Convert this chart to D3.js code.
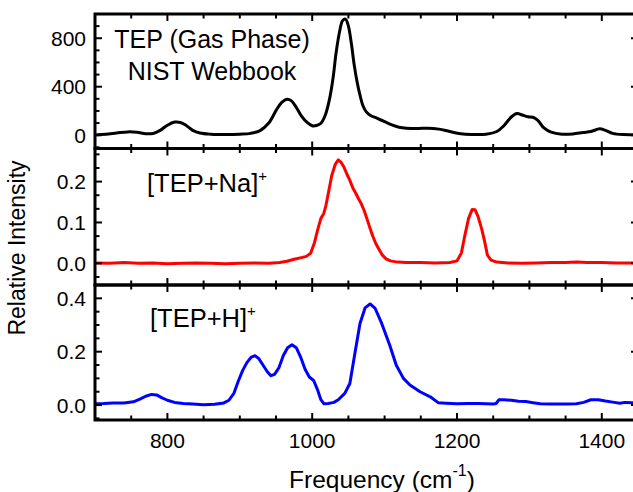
<!DOCTYPE html>
<html>
<head>
<meta charset="utf-8">
<script src="https://cdn.jsdelivr.net/npm/d3@7"></script>
<style>
  html, body { margin: 0; padding: 0; background: #fff; }
  svg { display: block; font-family: "Liberation Sans", Arial, sans-serif; }
</style>
</head>
<body>
<svg id="chart" width="633" height="492"></svg>
<script>
// --- data (frequency in cm-1, intensity) ---
const gasFreq = [700, 715, 730, 745, 758, 770, 780, 790, 800, 810, 818, 826, 835, 845, 860, 880, 900, 915, 928, 940,
  951, 958, 965, 971, 978, 985, 993, 1000, 1006, 1012, 1018, 1024, 1029, 1033, 1038, 1042, 1046, 1050, 1054, 1058,
  1062, 1066, 1070, 1075, 1080, 1090, 1100, 1110, 1120, 1130, 1145, 1160, 1175, 1190, 1205, 1220, 1240, 1255, 1265,
  1275, 1283, 1290, 1298, 1305, 1312, 1320, 1330, 1345, 1360, 1374, 1385, 1397, 1405, 1415, 1430, 1450];
const gasInt = [2, 8, 18, 27, 24, 12, 14, 40, 82, 108, 105, 80, 40, 18, 8, 5, 8, 15, 38, 100,
  213, 270, 297, 285, 230, 160, 105, 78, 80, 98, 165, 300, 480, 680, 860, 945, 958, 900, 760, 580,
  440, 330, 245, 190, 165, 138, 112, 85, 66, 58, 55, 58, 50, 30, 12, 6, 8, 30, 80,
  150, 178, 166, 152, 148, 120, 60, 25, 8, 10, 22, 30, 52, 40, 15, 5, 5];

const naFreq = [700, 720, 740, 760, 780, 800, 820, 840, 860, 880, 900, 920, 940, 955, 965, 975, 985, 992, 998, 1003,
  1008, 1012, 1016, 1019, 1023, 1027, 1032, 1036, 1040, 1044, 1048, 1052, 1056, 1060, 1064, 1068, 1072, 1076, 1080,
  1084, 1088, 1092, 1097, 1102, 1108, 1118, 1130, 1150, 1170, 1190, 1200, 1206, 1211, 1216, 1221, 1225, 1229, 1234,
  1238, 1242, 1247, 1255, 1270, 1290, 1310, 1330, 1350, 1365, 1380, 1400, 1420, 1450];
const naInt = [0.001, 0.0, 0.002, 0.0, 0.001, -0.001, 0.0, 0.001, 0.0, -0.001, 0.0, 0.001, 0.0, 0.002, 0.005, 0.01, 0.014, 0.017, 0.025, 0.05,
  0.085, 0.11, 0.122, 0.142, 0.178, 0.215, 0.243, 0.253, 0.247, 0.235, 0.218, 0.203, 0.185, 0.172, 0.158, 0.145, 0.128, 0.107, 0.085,
  0.065, 0.048, 0.035, 0.02, 0.011, 0.006, 0.003, 0.002, 0.002, 0.001, 0.002, 0.006, 0.025, 0.07, 0.11, 0.132, 0.131, 0.115, 0.085,
  0.055, 0.02, 0.008, 0.003, 0.001, 0.0, 0.001, 0.002, 0.002, 0.003, 0.002, 0.002, 0.001, 0.001];

const hFreq = [700, 712, 725, 740, 753, 762, 770, 778, 785, 792, 800, 810, 822, 835, 850, 865, 878, 885, 892, 898,
  904, 910, 916, 921, 926, 932, 938, 943, 948, 954, 960, 966, 972, 978, 984, 990, 996, 1002, 1007, 1012,
  1016, 1022, 1030, 1036, 1045, 1052, 1059, 1066, 1073, 1080, 1087, 1096, 1107, 1116, 1126, 1135, 1149, 1163, 1174,
  1185, 1200, 1215, 1230, 1250, 1254, 1258, 1265, 1275, 1285, 1295, 1305, 1315, 1330, 1350, 1365, 1375, 1385, 1395,
  1405, 1415, 1425, 1432, 1442, 1450];
const hInt = [0.005, 0.006, 0.008, 0.008, 0.012, 0.022, 0.033, 0.04, 0.038, 0.028, 0.018, 0.01, 0.006, 0.004, 0.001, 0.003, 0.008, 0.018, 0.045, 0.09,
  0.13, 0.16, 0.18, 0.185, 0.175, 0.15, 0.125, 0.11, 0.115, 0.14, 0.185, 0.215, 0.226, 0.215, 0.18, 0.135, 0.105, 0.092, 0.06, 0.02,
  0.005, 0.006, 0.01, 0.02, 0.044, 0.081, 0.194, 0.306, 0.364, 0.379, 0.362, 0.306, 0.225, 0.15, 0.1, 0.075, 0.05, 0.031, 0.009,
  0.007, 0.005, 0.006, 0.006, 0.004, 0.006, 0.02, 0.02, 0.018, 0.014, 0.013, 0.009, 0.005, 0.004, 0.004, 0.005, 0.01, 0.02, 0.02,
  0.015, 0.011, 0.007, 0.01, 0.009, 0.008];

const xTickLabels = [800, 1000, 1200, 1400];
const gasTicks = [0, 400, 800];
const naTicks = [0.0, 0.1, 0.2];
const hTicks = [0.0, 0.2, 0.4];

const svg = d3.select("#chart");
const left = 95, right = 638;
const x = d3.scaleLinear().domain([700, 1450]).range([left, right]);

const panels = [
  { top: 14, bottom: 148.5, domain: [-110, 1000], ticks: gasTicks, minor: d3.range(-100, 1000, 100),
    fmt: d3.format("d"), freq: gasFreq, val: gasInt, color: "#000", curve: d3.curveCatmullRom.alpha(0.5) },
  { top: 148.5, bottom: 285, domain: [-0.053, 0.281], ticks: naTicks, minor: d3.range(-1, 9).map(i => i / 30),
    fmt: d3.format(".1f"), freq: naFreq, val: naInt, color: "#ff0000", curve: d3.curveLinear },
  { top: 285, bottom: 420, domain: [-0.056, 0.45], ticks: hTicks, minor: d3.range(-1, 9).map(i => i * 0.05),
    fmt: d3.format(".1f"), freq: hFreq, val: hInt, color: "#0000ff", curve: d3.curveLinear }
];

panels.forEach((p, i) => {
  const y = d3.scaleLinear().domain(p.domain).range([p.bottom, p.top]);
  const g = svg.append("g");

  g.append("clipPath").attr("id", "clip" + i)
    .append("rect").attr("x", left).attr("y", p.top).attr("width", right - left).attr("height", p.bottom - p.top);

  const line = d3.line().x((d, j) => x(p.freq[j])).y(d => y(d)).curve(p.curve);
  g.append("path").datum(p.val)
    .attr("clip-path", `url(#clip${i})`)
    .attr("fill", "none").attr("stroke", p.color).attr("stroke-width", 3)
    .attr("stroke-linejoin", "round").attr("d", line);

  // y ticks, left and right, pointing inward
  const yt = (vals, len) => {
    vals.forEach(v => {
      const yy = y(v);
      g.append("line").attr("x1", left).attr("x2", left + len).attr("y1", yy).attr("y2", yy)
        .attr("stroke", "#000").attr("stroke-width", 2);
      g.append("line").attr("x1", right).attr("x2", right - len).attr("y1", yy).attr("y2", yy)
        .attr("stroke", "#000").attr("stroke-width", 2);
    });
  };
  yt(p.minor.filter(v => !p.ticks.some(t => Math.abs(t - v) < 1e-6)), 4.5);
  yt(p.ticks, 7);

  g.selectAll("text.ylab").data(p.ticks).join("text")
    .attr("x", 86).attr("y", d => y(d)).attr("dy", "0.36em")
    .attr("text-anchor", "end").attr("font-size", 21).text(d => p.fmt(d));

  // x ticks on top and bottom of each panel
  d3.range(700, 1451, 50).forEach(v => {
    const len = v % 200 === 0 ? 7 : 4.5;
    [[p.top, 1], [p.bottom, -1]].forEach(([yy, dir]) => {
      g.append("line").attr("x1", x(v)).attr("x2", x(v)).attr("y1", yy).attr("y2", yy + dir * len)
        .attr("stroke", "#000").attr("stroke-width", 2);
    });
  });

  g.append("rect").attr("x", left).attr("y", p.top).attr("width", right - left).attr("height", p.bottom - p.top)
    .attr("fill", "none").attr("stroke", "#000").attr("stroke-width", 3);
});

// panel labels
svg.append("text").attr("x", 212).attr("y", 48).attr("text-anchor", "middle").attr("font-size", 25)
  .text("TEP (Gas Phase)");
svg.append("text").attr("x", 212).attr("y", 80).attr("text-anchor", "middle").attr("font-size", 25)
  .text("NIST Webbook");

const naLab = svg.append("text").attr("x", 147).attr("y", 192).attr("font-size", 25.5);
naLab.append("tspan").text("[TEP+Na]");
naLab.append("tspan").attr("font-size", 15).attr("dy", -11).text("+");

const hLab = svg.append("text").attr("x", 150).attr("y", 327).attr("font-size", 25.5);
hLab.append("tspan").text("[TEP+H]");
hLab.append("tspan").attr("font-size", 15).attr("dy", -11).text("+");

// x tick labels
svg.selectAll("text.xlab").data(xTickLabels).join("text")
  .attr("x", d => x(d)).attr("y", 448).attr("text-anchor", "middle").attr("font-size", 21).text(d => d);

// axis titles
const xt = svg.append("text").attr("x", 382).attr("y", 488).attr("text-anchor", "middle").attr("font-size", 24.5);
xt.append("tspan").text("Frequency (cm");
xt.append("tspan").attr("font-size", 16).attr("dy", -12).text("-1");
xt.append("tspan").attr("dy", 12).text(")");

svg.append("text").attr("transform", "translate(25,248) rotate(-90)")
  .attr("text-anchor", "middle").attr("font-size", 23).text("Relative Intensity");
</script>
</body>
</html>
